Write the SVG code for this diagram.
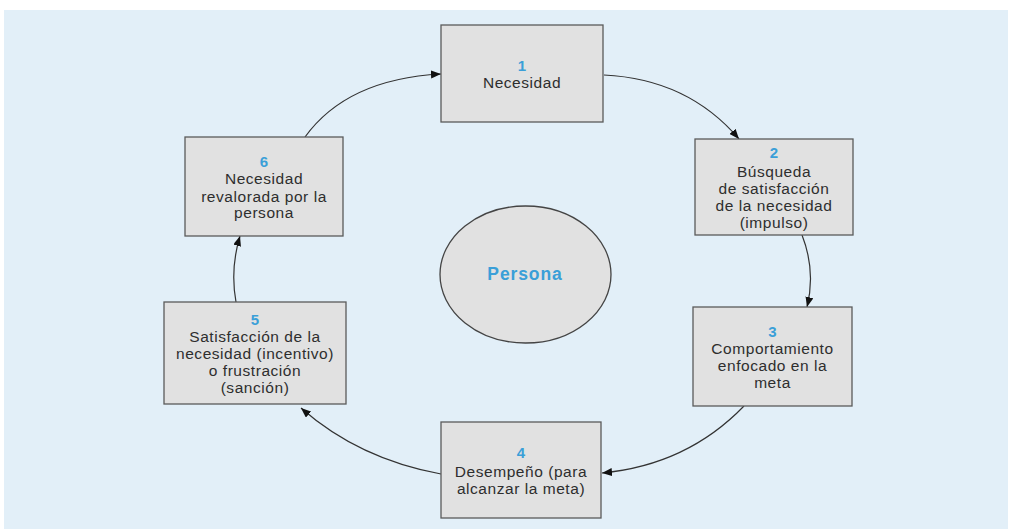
<svg xmlns="http://www.w3.org/2000/svg" width="1012" height="529" viewBox="0 0 1012 529">
<style>
.box{fill:#e1e1e1;stroke:#5a5a5a;stroke-width:1.3}
.t{font-family:"Liberation Sans",Arial,sans-serif;font-size:15.5px;letter-spacing:0.55px;fill:#2e2e2e;text-anchor:middle}
.n{font-family:"Liberation Sans",Arial,sans-serif;font-size:15px;font-weight:bold;fill:#3a9fd8;text-anchor:middle}
.c{fill:none;stroke:#333;stroke-width:1.2;marker-end:url(#ah)}
</style>
<defs>
<marker id="ah" viewBox="0 0 10 8" refX="10" refY="4" markerWidth="10" markerHeight="8" markerUnits="userSpaceOnUse" orient="auto">
<path d="M0,0 L10,4 L0,8 Z" fill="#111"/>
</marker>
</defs>
<rect x="0" y="0" width="1012" height="529" fill="#ffffff"/>
<rect x="4" y="10" width="1004" height="519" fill="#e2eff8"/>
<g id="connectors">
<path class="c" d="M604,75 Q688,79 739,139"/>
<path class="c" d="M802,235 Q816,271 807,307"/>
<path class="c" d="M744,406 Q687,465 602,473"/>
<path class="c" d="M441,474 Q359,459 301,408"/>
<path class="c" d="M236,302 Q230,269 240,236"/>
<path class="c" d="M305,137 Q347,79 441,74"/>
</g>
<g id="persona">
<ellipse cx="525.5" cy="274.5" rx="85.5" ry="68.5" fill="#e1e1e1" stroke="#444" stroke-width="1.3"/>
<text x="525" y="280" font-family="Liberation Sans,Arial,sans-serif" font-size="17.5" font-weight="bold" letter-spacing="0.9" fill="#3a9fd8" text-anchor="middle">Persona</text>
</g>
<g id="node1">
<rect class="box" x="441" y="25" width="162" height="97"/>
<text class="n" x="522" y="71">1</text>
<text class="t" x="522" y="88">Necesidad</text>
</g>
<g id="node2">
<rect class="box" x="695" y="139" width="158" height="96"/>
<text class="n" x="774" y="158">2</text>
<text class="t" x="774" y="177">Búsqueda</text>
<text class="t" x="774" y="194">de satisfacción</text>
<text class="t" x="774" y="211">de la necesidad</text>
<text class="t" x="774" y="228">(impulso)</text>
</g>
<g id="node3">
<rect class="box" x="693" y="307" width="159" height="99"/>
<text class="n" x="772.5" y="337">3</text>
<text class="t" x="772.5" y="354">Comportamiento</text>
<text class="t" x="772.5" y="371">enfocado en la</text>
<text class="t" x="772.5" y="388">meta</text>
</g>
<g id="node4">
<rect class="box" x="441" y="422" width="160" height="96"/>
<text class="n" x="521" y="458">4</text>
<text class="t" x="521" y="477">Desempeño (para</text>
<text class="t" x="521" y="494">alcanzar la meta)</text>
</g>
<g id="node5">
<rect class="box" x="164" y="302" width="182" height="102"/>
<text class="n" x="255" y="325">5</text>
<text class="t" x="255" y="342">Satisfacción de la</text>
<text class="t" x="255" y="359">necesidad (incentivo)</text>
<text class="t" x="255" y="376">o frustración</text>
<text class="t" x="255" y="393">(sanción)</text>
</g>
<g id="node6">
<rect class="box" x="185" y="137" width="158" height="99"/>
<text class="n" x="264" y="167">6</text>
<text class="t" x="264" y="184">Necesidad</text>
<text class="t" x="264" y="202">revalorada por la</text>
<text class="t" x="264" y="218">persona</text>
</g>
</svg>
